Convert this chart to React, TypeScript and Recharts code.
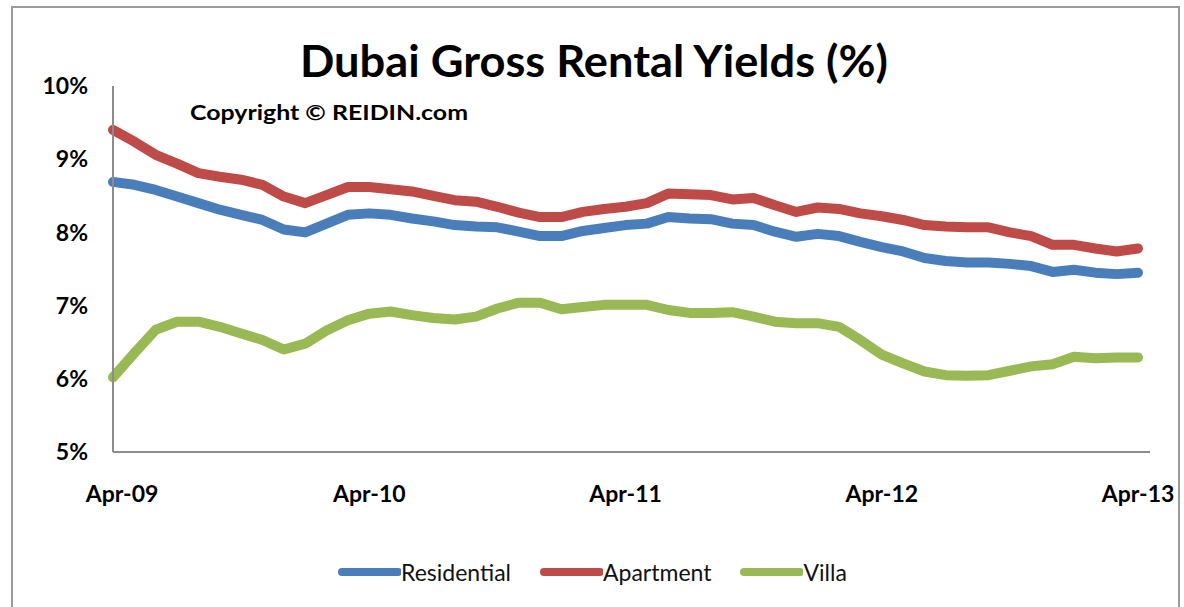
import { LineChart, Line, XAxis, YAxis, Legend } from 'recharts'

const months = [
    'Apr-09', 'May-09', 'Jun-09', 'Jul-09', 'Aug-09', 'Sep-09', 'Oct-09', 'Nov-09', 'Dec-09', 'Jan-10', 'Feb-10', 'Mar-10',
    'Apr-10', 'May-10', 'Jun-10', 'Jul-10', 'Aug-10', 'Sep-10', 'Oct-10', 'Nov-10', 'Dec-10', 'Jan-11', 'Feb-11', 'Mar-11',
    'Apr-11', 'May-11', 'Jun-11', 'Jul-11', 'Aug-11', 'Sep-11', 'Oct-11', 'Nov-11', 'Dec-11', 'Jan-12', 'Feb-12', 'Mar-12',
    'Apr-12', 'May-12', 'Jun-12', 'Jul-12', 'Aug-12', 'Sep-12', 'Oct-12', 'Nov-12', 'Dec-12', 'Jan-13', 'Feb-13', 'Mar-13',
    'Apr-13'
]

const residential = [
    8.69, 8.65, 8.58, 8.49, 8.40, 8.31, 8.24, 8.17, 8.04, 8.00, 8.12, 8.24,
    8.26, 8.24, 8.19, 8.15, 8.10, 8.08, 8.07, 8.01, 7.95, 7.95, 8.02, 8.06,
    8.10, 8.12, 8.21, 8.19, 8.18, 8.12, 8.10, 8.01, 7.94, 7.98, 7.95, 7.87,
    7.80, 7.74, 7.65, 7.61, 7.59, 7.59, 7.57, 7.54, 7.46, 7.49, 7.45, 7.43,
    7.45
]

const apartment = [
    9.40, 9.24, 9.06, 8.94, 8.81, 8.76, 8.72, 8.65, 8.49, 8.40, 8.51, 8.62,
    8.62, 8.59, 8.56, 8.50, 8.44, 8.42, 8.35, 8.27, 8.21, 8.21, 8.28, 8.32,
    8.35, 8.40, 8.53, 8.52, 8.51, 8.45, 8.47, 8.37, 8.28, 8.34, 8.32, 8.26,
    8.22, 8.17, 8.10, 8.08, 8.07, 8.07, 8.00, 7.95, 7.83, 7.83, 7.78, 7.74,
    7.78
]

const villa = [
    6.02, 6.35, 6.67, 6.78, 6.78, 6.71, 6.62, 6.53, 6.40, 6.48, 6.66, 6.80,
    6.89, 6.92, 6.87, 6.83, 6.81, 6.85, 6.96, 7.04, 7.04, 6.95, 6.98, 7.01,
    7.01, 7.01, 6.94, 6.90, 6.90, 6.91, 6.85, 6.78, 6.76, 6.76, 6.71, 6.53,
    6.33, 6.21, 6.10, 6.05, 6.04, 6.05, 6.11, 6.17, 6.20, 6.30, 6.28, 6.29,
    6.29
]

const yTicks = [5, 6, 7, 8, 9, 10]

const series = [
    { key: 'residential', name: 'Residential', color: '#4A7EBB' },
    { key: 'apartment', name: 'Apartment', color: '#BE4B48' },
    { key: 'villa', name: 'Villa', color: '#98B954' }
]

const data = months.map((month, i) => ({
    month,
    residential: residential[i],
    apartment: apartment[i],
    villa: villa[i]
}))

const FONT = 'Lato, "Open Sans", sans-serif'

function MonthTick({ x, y, payload, index }: any) {
    // Excel nudges the first label right so it is not clipped
    return (
        <text
            x={x + (index === 0 ? 9 : 0)}
            y={y}
            dy={50}
            textAnchor="middle"
            fill="#000"
            fontSize={23}
            fontWeight={700}
            fontFamily={FONT}
        >
            {payload.value}
        </text>
    )
}

function LegendRow() {
    return (
        <div style={{ display: 'flex', alignItems: 'center', height: 30, paddingLeft: 284, fontFamily: FONT }}>
            {series.map((s, i) => (
                <div key={s.key} style={{ display: 'flex', alignItems: 'center', marginLeft: i === 0 ? 0 : 28 }}>
                    <svg width={64} height={12}>
                        <line x1={5} y1={6} x2={61} y2={6} stroke={s.color} strokeWidth={8} strokeLinecap="round" />
                    </svg>
                    <span style={{ fontSize: 23, color: '#111' }}>{s.name}</span>
                </div>
            ))}
        </div>
    )
}

export default function App() {
    return (
        <div style={{ position: 'absolute', left: 0, top: 0, width: 1184, height: 607, overflow: 'hidden', background: '#fff' }}>
            <div style={{ position: 'absolute', left: 11, top: 6, width: 1169, height: 640, border: '2px solid #9a9a9a', boxSizing: 'border-box' }} />
            <LineChart width={1184} height={607} data={data} margin={{ top: 86, right: 34, left: 53, bottom: 20 }}>
                <XAxis
                    dataKey="month"
                    interval={11}
                    height={105}
                    tickSize={0}
                    tickMargin={0}
                    tickLine={false}
                    axisLine={{ stroke: '#8c8c8c', strokeWidth: 2 }}
                    padding={{ left: 0, right: 12 }}
                    tick={<MonthTick />}
                />
                <YAxis
                    width={60}
                    domain={[5, 10]}
                    ticks={yTicks}
                    tickFormatter={(v: number) => `${v}%`}
                    tickSize={0}
                    tickMargin={25}
                    tickLine={false}
                    axisLine={{ stroke: '#8c8c8c', strokeWidth: 2 }}
                    tick={{ fill: '#000', fontSize: 23, fontWeight: 700, fontFamily: FONT }}
                />
                <Legend verticalAlign="bottom" content={<LegendRow />} />
                {series.map((s) => (
                    <Line
                        key={s.key}
                        dataKey={s.key}
                        name={s.name}
                        type="linear"
                        stroke={s.color}
                        strokeWidth={10}
                        strokeLinecap="round"
                        strokeLinejoin="round"
                        dot={false}
                        activeDot={false}
                        isAnimationActive={false}
                    />
                ))}
            </LineChart>
            <svg width={1184} height={140} style={{ position: 'absolute', left: 0, top: 0, pointerEvents: 'none' }}>
                <text x={594} y={77} textAnchor="middle" fontFamily={FONT} fontWeight={700} fontSize={43} fill="#000" textLength={588} lengthAdjust="spacingAndGlyphs">
                    Dubai Gross Rental Yields (%)
                </text>
                <text x={190} y={120} fontFamily={FONT} fontWeight={700} fontSize={21} fill="#000" textLength={278} lengthAdjust="spacingAndGlyphs">
                    Copyright © REIDIN.com
                </text>
            </svg>
        </div>
    )
}
